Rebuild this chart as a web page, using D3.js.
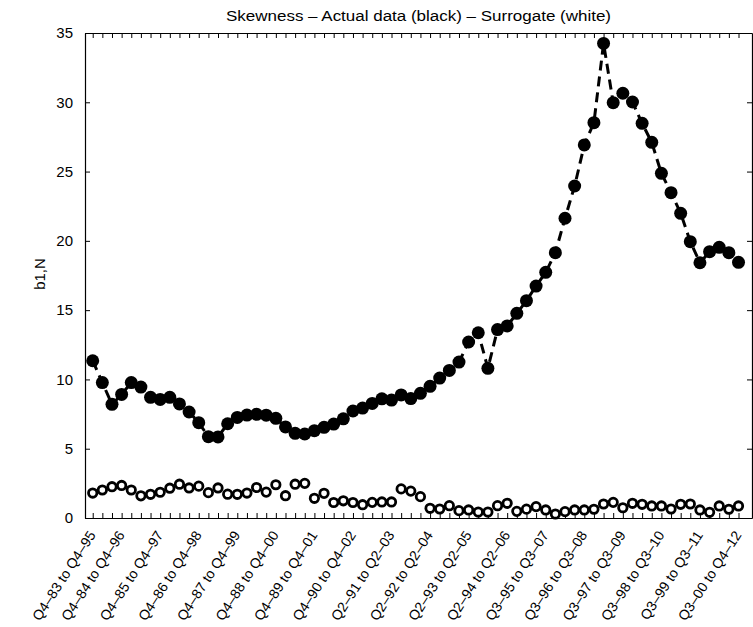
<!DOCTYPE html>
<html lang="en">
    <head>
        <title>Skewness</title>
        <meta charset="UTF-8">
        <script src="https://d3js.org/d3.v7.min.js"></script>
        <style>
            body { margin: 0; background: #fff; }
            text { font-family: "Liberation Sans", Arial, Helvetica, sans-serif; fill: #000; }
        </style>
    </head>
    <body>
        <script>
            const width = 753
            const height = 627

            // actual data (black dots)
            const actual = [11.35, 9.77, 8.2, 8.92, 9.77, 9.45, 8.71, 8.56, 8.71, 8.23,
                7.65, 6.88, 5.87, 5.85, 6.8, 7.26, 7.43, 7.48, 7.42, 7.19,
                6.57, 6.11, 6.06, 6.3, 6.54, 6.78, 7.16, 7.72, 7.93, 8.27,
                8.6, 8.51, 8.88, 8.62, 9.0, 9.5, 10.1, 10.65, 11.25, 12.7,
                13.37, 10.8, 13.6, 13.86, 14.77, 15.68, 16.74, 17.73, 19.15, 21.63,
                23.96, 26.92, 28.53, 34.25, 29.97, 30.65, 30.02, 28.48, 27.11, 24.87,
                23.48, 21.99, 19.94, 18.42, 19.22, 19.53, 19.15, 18.45]

            // surrogate (white dots)
            const surrogate = [1.8, 2.02, 2.26, 2.35, 2.02, 1.6, 1.71, 1.86, 2.15, 2.44,
                2.17, 2.3, 1.83, 2.17, 1.72, 1.71, 1.8, 2.2, 1.87, 2.4,
                1.61, 2.44, 2.5, 1.42, 1.78, 1.12, 1.24, 1.12, 0.96, 1.13,
                1.16, 1.16, 2.1, 1.94, 1.54, 0.7, 0.65, 0.89, 0.53, 0.58,
                0.43, 0.43, 0.89, 1.06, 0.48, 0.64, 0.82, 0.58, 0.29, 0.46,
                0.58, 0.58, 0.63, 1.01, 1.13, 0.74, 1.06, 0.99, 0.87, 0.87,
                0.65, 0.99, 1.01, 0.58, 0.41, 0.87, 0.63, 0.87]

            // x tick labels and the window index they sit on
            const periodLabels = ["Q4\u201383 to Q4\u201395", "Q4\u201384 to Q4\u201396", "Q4\u201385 to Q4\u201397",
                "Q4\u201386 to Q4\u201398", "Q4\u201387 to Q4\u201399", "Q4\u201388 to Q4\u201300",
                "Q4\u201389 to Q4\u201301", "Q4\u201390 to Q4\u201302", "Q2\u201391 to Q2\u201303",
                "Q2\u201392 to Q2\u201304", "Q2\u201393 to Q2\u201305", "Q2\u201394 to Q2\u201306",
                "Q3\u201395 to Q3\u201307", "Q3\u201396 to Q3\u201308", "Q3\u201397 to Q3\u201309",
                "Q3\u201398 to Q3\u201310", "Q3\u201399 to Q3\u201311", "Q3\u201300 to Q4\u201312"]
            const labelIndex = [0, 3, 7, 11, 15, 19, 23, 27, 31, 35, 39, 43, 47, 51, 55, 59, 63, 67]

            const yTicks = [0, 5, 10, 15, 20, 25, 30, 35]

            const plotLeft = 85, plotRight = 752, plotTop = 33, plotBottom = 518

            var svg = d3.select("body")
                .append("svg")
                .attr("width", width)
                .attr("height", height)

            svg.append("rect").attr("width", width).attr("height", height).attr("fill", "#fff")

            var x = d3.scaleLinear().domain([-0.8, 68.4]).range([plotLeft, plotRight])
            var y = d3.scaleLinear().domain([0, 35]).range([plotBottom, plotTop])

            var idx = d3.range(actual.length)

            // box + ticks
            svg.append("g")
                .attr("transform", `translate(0, ${plotBottom})`)
                .call(d3.axisBottom(x).tickValues(idx).tickSize(-5).tickSizeOuter(0).tickFormat(""))
            svg.append("g")
                .attr("transform", `translate(0, ${plotTop})`)
                .call(d3.axisTop(x).tickValues(idx).tickSize(-5).tickSizeOuter(0).tickFormat(""))
            svg.append("g")
                .attr("transform", `translate(${plotLeft}, 0)`)
                .call(d3.axisLeft(y).tickValues(yTicks).tickSize(-5).tickSizeOuter(0).tickPadding(12))
            svg.append("g")
                .attr("transform", `translate(${plotRight}, 0)`)
                .call(d3.axisRight(y).tickValues(yTicks).tickSize(-5).tickSizeOuter(0).tickFormat(""))

            svg.selectAll(".domain").attr("stroke", "#000").attr("stroke-width", 1.2)
            svg.selectAll(".tick line").attr("stroke", "#000")
            svg.selectAll(".tick text").style("font-size", "15px").attr("fill", "#000")

            // rotated period labels
            var lab = svg.append("g")
                .attr("transform", `translate(0, ${plotBottom})`)
                .call(d3.axisBottom(x).tickValues(labelIndex).tickSize(0)
                    .tickFormat(function(d, i){ return periodLabels[i] }))
            lab.select(".domain").remove()
            lab.selectAll("text")
                .attr("y", 0)
                .attr("dy", 0)
                .attr("text-anchor", "end")
                .attr("transform", "translate(3, 17) rotate(-57)")
                .style("font-size", "14px")

            // dashed line through actual data
            var line = d3.line()
                .x(function(d, i){ return x(i) })
                .y(function(d){ return y(d) })

            svg.append("path")
                .datum(actual)
                .attr("fill", "none")
                .attr("stroke", "#000")
                .attr("stroke-width", 3)
                .attr("stroke-dasharray", "10,6")
                .attr("d", line)

            svg.append("g").selectAll("circle")
                .data(actual)
                .enter()
                .append("circle")
                .attr("cx", function(d, i){ return x(i) })
                .attr("cy", function(d){ return y(d) })
                .attr("r", 6.5)
                .attr("fill", "#000")

            svg.append("g").selectAll("circle")
                .data(surrogate)
                .enter()
                .append("circle")
                .attr("cx", function(d, i){ return x(i) })
                .attr("cy", function(d){ return y(d) })
                .attr("r", 4.2)
                .attr("fill", "#fff")
                .attr("stroke", "#000")
                .attr("stroke-width", 2.8)

            // title and y label
            svg.append("text")
                .attr("x", (plotLeft + plotRight) / 2)
                .attr("y", 21)
                .attr("text-anchor", "middle")
                .attr("textLength", 385)
                .attr("lengthAdjust", "spacingAndGlyphs")
                .style("font-size", "14px")
                .text("Skewness \u2013 Actual data (black) \u2013 Surrogate (white)")

            svg.append("text")
                .attr("transform", "translate(45, 274) rotate(-90)")
                .attr("text-anchor", "middle")
                .style("font-size", "15px")
                .text("b1,N")
        </script>
    </body>
</html>
